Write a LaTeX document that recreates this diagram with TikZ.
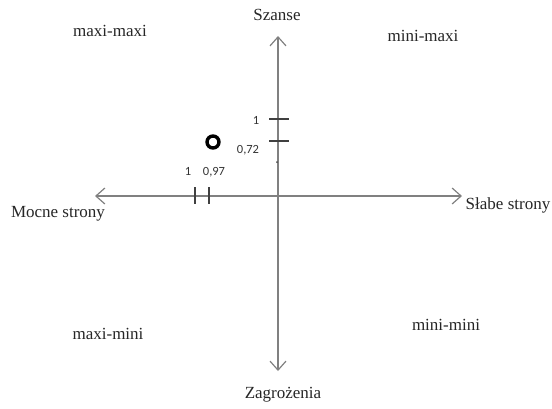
\documentclass[tikz,border=0pt]{standalone}
\usepackage{fontspec}
\setmainfont{Liberation Serif}
\newfontfamily\numfont{Carlito}
\usetikzlibrary{arrows.meta}
\begin{document}
\begin{tikzpicture}[x=1pt,y=-1pt,
  axis/.style={draw=black!50,line width=1.6pt,{Straight Barb[length=9pt,width=16pt,line width=1.2pt]}-{Straight Barb[length=9pt,width=16pt,line width=1.2pt]}},
  tick/.style={draw=black!75,line width=1.2pt},
  lab/.style={font=\fontsize{17}{19}\selectfont,inner sep=0pt,text=black!85},
  num/.style={font=\numfont\fontsize{12.5}{14}\selectfont,inner sep=0pt,text=black!80}]
\useasboundingbox (0,0) rectangle (552,408);
\coordinate (top) at (278,36);
\coordinate (bot) at (278,371);
\coordinate (left) at (95,196);
\coordinate (right) at (462,196);
\draw[axis] (bot) -- (top);
\draw[axis] (left) -- (right);
% ticks on vertical axis
\coordinate (v1a) at (269,119); \coordinate (v1b) at (289,119);
\coordinate (v2a) at (269,141); \coordinate (v2b) at (289,141);
\draw[tick] (v1a) -- (v1b);
\draw[tick] (v2a) -- (v2b);
\fill[black!70] (277,162) circle (1pt);
% ticks on horizontal axis
\coordinate (h1a) at (195,187); \coordinate (h1b) at (195,204);
\coordinate (h2a) at (209,187); \coordinate (h2b) at (209,204);
\draw[tick] (h1a) -- (h1b);
\draw[tick] (h2a) -- (h2b);
% point
\node (pt) [circle,draw=black,line width=3.4pt,minimum size=12pt,inner sep=0pt] at (213,142) {};
% numeric labels
\node[num] (n1v) at (256,120) {1};
\node[num] (n72) at (248,150) {0,72};
\node[num] (n1h) at (188,171) {1};
\node[num] (n97) at (214,172) {0,97};
% axis labels
\node[lab] (sz) at (277,15) {Szanse};
\node[lab] (zg) at (283,395) {Zagrożenia};
\node[lab] (ms) at (58,214) {Mocne strony};
\node[lab] (ss) at (508,205) {Słabe strony};
% quadrant labels
\node[lab] (q1) at (110,31) {maxi-maxi};
\node[lab] (q2) at (423,36) {mini-maxi};
\node[lab] (q3) at (108,334) {maxi-mini};
\node[lab] (q4) at (446,325) {mini-mini};
\end{tikzpicture}
\end{document}
